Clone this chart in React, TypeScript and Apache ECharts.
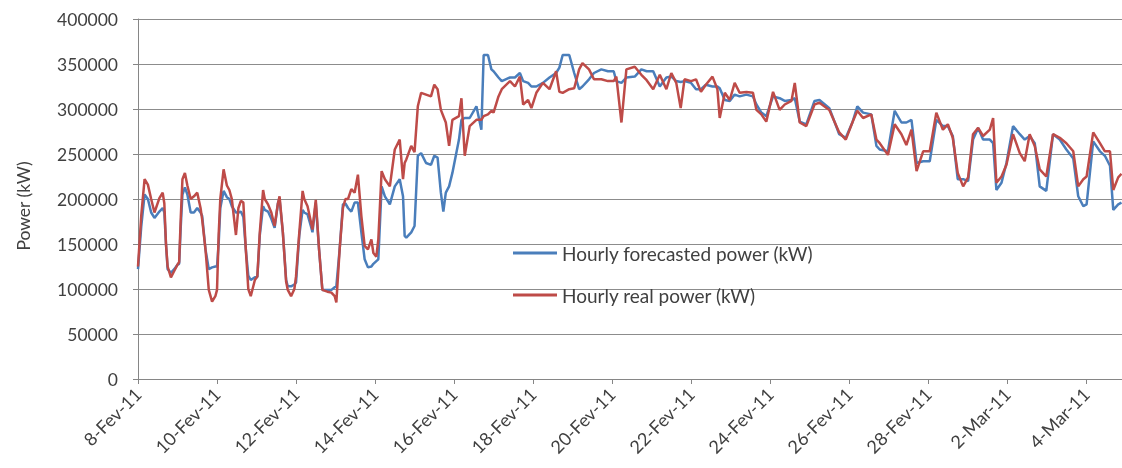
import React, { useEffect, useRef } from 'react';
import * as echarts from 'echarts';

// hours elapsed since 8-Feb-11 00:00
const hours = [
  0, 2, 4, 6, 8, 10, 13, 15, 16, 17,
  18, 20, 22, 24, 25, 26, 27, 28.5, 30, 32,
  34, 36, 38, 39, 41, 43, 45, 47, 48, 49,
  50, 52, 54, 55.5, 57, 59.5, 61, 62.5, 64, 65.5,
  67, 68.5, 71, 72.5, 74, 76, 77, 79, 81, 83,
  85, 86, 88, 90, 91, 93, 95, 96, 98, 100,
  101, 103, 105, 106, 108, 110, 112, 115, 117.5, 119.5,
  120.5, 122.5, 124.5, 126, 127.6, 129.6, 131.6, 133.6, 135.7, 137.7,
  139.7, 141.8, 143, 144.8, 146, 148, 150, 153, 156, 159,
  161, 162, 163, 166, 168, 170, 172, 175, 178, 180,
  182, 184, 185.5, 187, 189, 191, 195, 196.5, 198.5, 201.5,
  205.6, 208.6, 210, 212.6, 214.7, 216, 219, 221, 226, 229,
  232, 234, 237, 239, 242, 246, 250, 254, 256, 258,
  262, 265, 268, 270, 274, 277, 281.5, 285.5, 289, 290.6,
  293.7, 296.7, 301.8, 305.8, 309, 313, 317, 321, 324, 327,
  329.7, 332, 336, 339, 342, 345, 349, 352, 353.4, 356.5,
  359.5, 362.5, 365.5, 369.6, 373.6, 375.7, 378.7, 381.7, 385.8, 389.8,
  392.9, 397, 399, 402, 406, 411, 414, 420, 426, 430,
  434, 437, 440.5, 445.5, 448.6, 450.6, 455.6, 459.7, 463.8, 466.8,
  469.9, 473, 477, 481, 485, 489, 492, 495, 498, 501.3,
  504.3, 507.3, 510.4, 513.4, 517.5, 519.5, 521.5, 524.6, 527.6, 531.6,
  535.7, 538.7, 541.7, 544.8, 547.8, 551.8, 555.9, 560, 564, 568.2,
  571.2, 574.3, 576.3, 580.3, 584.4, 587.4, 590.5, 592.5, 595.5, 597.5,
];

const forecastKW = [
  122000, 170000, 205000, 200000, 185000, 179000, 186000, 190000, 185000, 150000,
  122000, 118000, 122000, 127000, 128000, 170000, 205000, 213000, 205000, 185000,
  185000, 190000, 185000, 181000, 144000, 122000, 124000, 125000, 125000, 150000,
  190000, 209000, 202000, 200000, 192000, 185000, 185000, 186000, 180000, 144000,
  115000, 110000, 113000, 113000, 160000, 192000, 188000, 186000, 178000, 168000,
  195000, 200000, 163000, 110000, 103000, 103000, 105000, 107000, 160000, 188000,
  185000, 183000, 170000, 163000, 196000, 144000, 99000, 99000, 99000, 102000,
  103000, 144000, 194000, 195000, 190000, 186000, 196000, 196000, 163000, 133000,
  124000, 125000, 128000, 131000, 133000, 214000, 203000, 194000, 214000, 222000,
  203000, 159000, 157000, 163000, 170000, 248000, 251000, 240000, 238000, 248000,
  246000, 207000, 186000, 207000, 214000, 229000, 266000, 288000, 290000, 290000,
  303000, 277000, 360000, 360000, 344000, 342000, 335000, 331000, 335000, 335000,
  340000, 331000, 329000, 325000, 325000, 329000, 335000, 340000, 346000, 360000,
  360000, 340000, 322000, 325000, 333000, 340000, 344000, 342000, 342000, 331000,
  329000, 335000, 336000, 344000, 342000, 342000, 325000, 335000, 336000, 331000,
  330000, 331000, 329000, 322000, 322000, 327000, 325000, 325000, 323000, 310000,
  309000, 316000, 314000, 316000, 314000, 305000, 296000, 292000, 314000, 312000,
  309000, 310000, 312000, 286000, 283000, 309000, 310000, 301000, 272000, 268000,
  285000, 303000, 296000, 294000, 259000, 255000, 253000, 298000, 285000, 285000,
  288000, 240000, 242000, 242000, 288000, 281000, 281000, 270000, 222000, 222000,
  220000, 266000, 279000, 266000, 266000, 262000, 210000, 218000, 240000, 281000,
  272000, 266000, 270000, 262000, 214000, 209000, 272000, 266000, 255000, 245000,
  203000, 192000, 194000, 264000, 253000, 248000, 237000, 188000, 194000, 196000,
];

const realKW = [
  125000, 182000, 222000, 216000, 200000, 185000, 201000, 207000, 195000, 150000,
  125000, 113000, 120000, 127000, 130000, 180000, 222000, 229000, 215000, 200000,
  203000, 207000, 190000, 177000, 144000, 99000, 86000, 92000, 99000, 160000,
  200000, 233000, 215000, 210000, 200000, 160000, 190000, 198000, 196000, 144000,
  100000, 92000, 110000, 114000, 163000, 210000, 200000, 194000, 185000, 170000,
  195000, 203000, 163000, 108000, 99000, 92000, 100000, 114000, 163000, 209000,
  200000, 192000, 175000, 166000, 199000, 144000, 99000, 97000, 96000, 92000,
  85000, 144000, 190000, 200000, 200000, 211000, 207000, 227000, 181000, 148000,
  144000, 155000, 140000, 136000, 155000, 231000, 222000, 214000, 255000, 266000,
  222000, 240000, 244000, 259000, 252000, 303000, 318000, 316000, 314000, 327000,
  322000, 299000, 292000, 285000, 259000, 288000, 292000, 312000, 248000, 281000,
  288000, 288000, 292000, 294000, 298000, 296000, 314000, 322000, 331000, 325000,
  336000, 305000, 310000, 301000, 318000, 329000, 322000, 342000, 319000, 318000,
  322000, 323000, 344000, 351000, 344000, 333000, 333000, 331000, 331000, 336000,
  285000, 344000, 347000, 338000, 332000, 322000, 338000, 322000, 340000, 329000,
  301000, 333000, 331000, 333000, 319000, 327000, 336000, 322000, 290000, 318000,
  310000, 329000, 318000, 319000, 318000, 299000, 294000, 286000, 319000, 299000,
  305000, 309000, 329000, 285000, 281000, 305000, 307000, 299000, 274000, 266000,
  285000, 298000, 290000, 294000, 266000, 262000, 249000, 283000, 272000, 260000,
  277000, 231000, 253000, 253000, 296000, 277000, 283000, 268000, 229000, 214000,
  224000, 272000, 279000, 270000, 277000, 290000, 218000, 225000, 238000, 272000,
  251000, 242000, 272000, 259000, 233000, 225000, 272000, 268000, 262000, 253000,
  214000, 222000, 225000, 274000, 262000, 253000, 253000, 210000, 224000, 228000,
];

const tickLabels = [
  '8-Fev-11', '10-Fev-11', '12-Fev-11', '14-Fev-11', '16-Fev-11', '18-Fev-11', '20-Fev-11',
  '22-Fev-11', '24-Fev-11', '26-Fev-11', '28-Fev-11', '2-Mar-11', '4-Mar-11',
];

const seriesNames = ['Hourly forecasted power (kW)', 'Hourly real power (kW)'];
const yTitle = 'Power (kW)';

export default function App() {
  const ref = useRef<HTMLDivElement>(null);
  useEffect(() => {
    const chart = echarts.init(ref.current!, null, { renderer: 'svg' });
    const font = 'Lato, "Open Sans", sans-serif';
    const axisColor = '#868686';
    const textColor = '#404040';
    chart.setOption({
      animation: false,
      grid: { left: 138, right: 0, top: 19, bottom: 89, containLabel: false },
      xAxis: {
        type: 'value',
        min: 0,
        max: 597.8,
        interval: 48,
        axisLine: { show: true, lineStyle: { color: axisColor, width: 1 } },
        axisTick: { show: true, length: 5, lineStyle: { color: axisColor } },
        splitLine: { show: false },
        axisLabel: {
          rotate: 45,
          margin: 12,
          color: textColor,
          fontFamily: font,
          fontSize: 18,
          showMaxLabel: false,
          formatter: (v: number) => {
            const i = Math.round(v / 48);
            return Math.abs(v - i * 48) < 1e-6 ? tickLabels[i] ?? '' : '';
          },
        },
      },
      yAxis: {
        type: 'value',
        min: 0,
        max: 400000,
        interval: 50000,
        axisLine: { show: true, lineStyle: { color: axisColor, width: 1 } },
        axisTick: { show: true, length: 5, lineStyle: { color: axisColor } },
        splitLine: { show: true, lineStyle: { color: '#8c8c8c', width: 1 } },
        axisLabel: {
          margin: 20,
          color: textColor,
          fontFamily: font,
          fontSize: 17.5,
          formatter: (v: number) => String(v),
        },
      },
      legend: {
        orient: 'vertical',
        left: 513,
        top: 243,
        padding: 0,
        icon: 'rect',
        itemWidth: 44,
        itemHeight: 3,
        itemGap: 22,
        data: seriesNames,
        textStyle: { fontFamily: font, fontSize: 19, color: textColor, lineHeight: 20 },
      },
      graphic: [
        {
          type: 'text',
          x: 23,
          y: 206,
          rotation: Math.PI / 2,
          style: {
            text: yTitle,
            fontFamily: font,
            fontSize: 17.5,
            fill: textColor,
            align: 'center',
            verticalAlign: 'middle',
          },
        },
      ],
      series: [
        {
          name: seriesNames[0],
          type: 'line',
          symbol: 'none',
          data: hours.map((h, i) => [h, forecastKW[i]]),
          lineStyle: { color: '#4a7ebb', width: 2.5 },
          itemStyle: { color: '#4a7ebb' },
        },
        {
          name: seriesNames[1],
          type: 'line',
          symbol: 'none',
          data: hours.map((h, i) => [h, realKW[i]]),
          lineStyle: { color: '#be4b48', width: 2.5 },
          itemStyle: { color: '#be4b48' },
        },
      ],
    });
    return () => chart.dispose();
  }, []);
  return <div ref={ref} style={{ position: 'fixed', left: 0, top: 0, width: 1122, height: 468 }} />;
}
